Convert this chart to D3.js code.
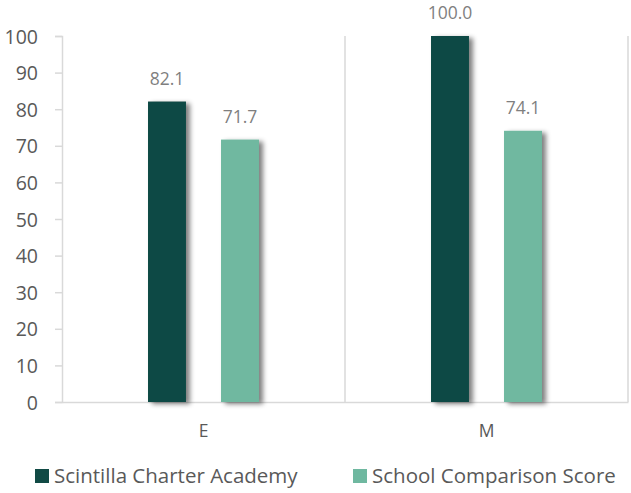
<!DOCTYPE html>
<html><head><meta charset="utf-8">
<script src="https://cdn.jsdelivr.net/npm/d3@7"></script>
<style>body{margin:0;background:#fff}svg{display:block;font-family:"Open Sans",sans-serif}</style>
</head><body><svg id="c" width="631" height="493"></svg>
<script>
const categories = ["E", "M"];
const seriesNames = ["Scintilla Charter Academy", "School Comparison Score"];
const academyValues = [82.1, 100.0];
const comparisonValues = [71.7, 74.1];
const yTicks = [0, 10, 20, 30, 40, 50, 60, 70, 80, 90, 100];
const colors = ["#114A45", "#6FB8A0"];

(function(){
const svg = d3.select("#c");
const defs = svg.append("defs");
const f = defs.append("filter").attr("id","sh").attr("x","-20%").attr("y","-5%").attr("width","160%").attr("height","115%");
f.append("feGaussianBlur").attr("in","SourceAlpha").attr("stdDeviation",2.5).attr("result","b");
f.append("feOffset").attr("in","b").attr("dx",4).attr("dy",2).attr("result","o");
f.append("feComponentTransfer").attr("in","o").attr("result","o2").append("feFuncA").attr("type","linear").attr("slope",0.5);
const m = f.append("feMerge"); m.append("feMergeNode").attr("in","o2"); m.append("feMergeNode").attr("in","SourceGraphic");

const pL = 62, pR = 628, pT = 36, pB = 402;
const x = d3.scaleBand().domain(categories).range([pL, pR]);
const y = d3.scaleLinear().domain([0, 100]).range([pB, pT]);
const xs = d3.scaleBand().domain([0,1]).range([0, x.bandwidth()]).paddingInner(0.48).paddingOuter(1.178);

const grid = "#D9D9D9";
svg.append("g").selectAll("line").data(categories).join("line")
  .attr("x1", d => x(d) + x.bandwidth()).attr("x2", d => x(d) + x.bandwidth())
  .attr("y1", pT).attr("y2", pB).attr("stroke", grid).attr("stroke-width", 1.5);

const ya = svg.append("g").attr("transform", `translate(${pL},0)`)
  .call(d3.axisLeft(y).tickValues(yTicks).tickSize(7).tickPadding(17));
ya.select(".domain").attr("stroke", grid).attr("stroke-width", 1.5);
ya.selectAll(".tick line").attr("stroke", grid).attr("stroke-width", 1.5);
ya.selectAll(".tick text").attr("fill", "#595959").attr("font-size", 19.5).attr("font-family", "Open Sans").attr("dy", "0.36em");

const xa = svg.append("g").attr("transform", `translate(0,${pB})`)
  .call(d3.axisBottom(x).tickSize(0).tickPadding(0));
xa.select(".domain").attr("stroke", grid).attr("stroke-width", 1.5);
xa.selectAll(".tick text").attr("fill", "#595959").attr("font-size", 17.5).attr("font-family", "Open Sans")
  .attr("y", 35).attr("dy", null);

const series = [academyValues, comparisonValues];
series.forEach((vals, si) => {
  const g = svg.append("g");
  g.selectAll("rect").data(vals).join("rect")
    .attr("x", (d,i) => x(categories[i]) + xs(si))
    .attr("width", xs.bandwidth())
    .attr("y", d => y(d)).attr("height", d => pB - y(d))
    .attr("fill", colors[si]).attr("filter", "url(#sh)");
  g.selectAll("text").data(vals).join("text")
    .attr("x", (d,i) => x(categories[i]) + xs(si) + xs.bandwidth()/2)
    .attr("y", d => y(d) - 17)
    .attr("text-anchor", "middle").attr("fill", "#7F7F7F").attr("font-size", 17.5)
    .text(d => d.toFixed(1));
});

const legX = [35, 353];
const lg = svg.append("g").selectAll("g").data(seriesNames).join("g")
  .attr("transform", (d,i) => `translate(${legX[i]},469)`);
lg.append("rect").attr("width", 14).attr("height", 14).attr("fill", (d,i) => colors[i]);
lg.append("text").attr("x", 19).attr("y", 14).attr("font-size", 20.5).attr("fill", "#595959").text(d => d);
})();
</script></body></html>
